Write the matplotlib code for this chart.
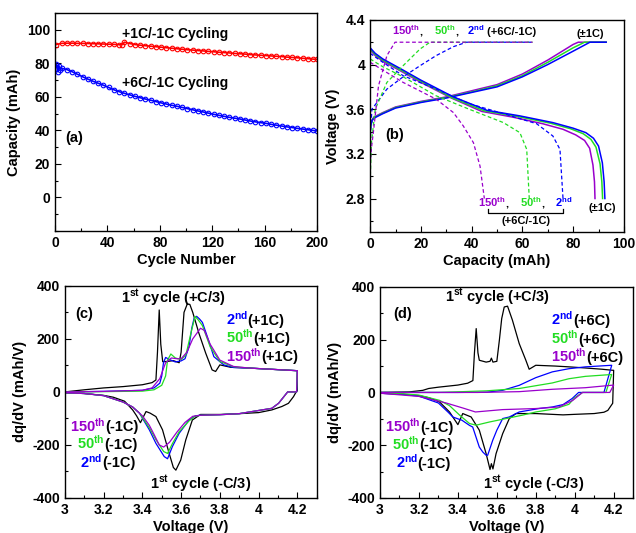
import numpy as np
import matplotlib
matplotlib.use("Agg")
import matplotlib.pyplot as plt
from matplotlib.ticker import MultipleLocator, FormatStrFormatter

plt.rcParams['font.family'] = ['Liberation Sans', 'DejaVu Sans']
plt.rcParams['font.weight'] = 'bold'
plt.rcParams['axes.labelweight'] = 'bold'
plt.rcParams['mathtext.fontset'] = 'custom'
plt.rcParams['mathtext.rm'] = 'Liberation Sans:bold'
plt.rcParams['mathtext.it'] = 'Liberation Sans:bold'
plt.rcParams['mathtext.bf'] = 'Liberation Sans:bold'
plt.rcParams['axes.unicode_minus'] = False

BLUE = '#0000ff'
GREEN = '#22dd22'
PURPLE = '#9900cc'
RED = '#ff0000'

# ---------------- (a) capacity vs cycle ----------------
red_cycles = [1, 5, 9, 13, 17, 21, 25, 29, 33, 37, 41, 45, 49, 51, 53, 57, 61, 65, 69, 73,
              77, 81, 85, 89, 93, 97, 101, 105, 109, 113, 117, 121, 125, 129, 133, 137, 141,
              145, 149, 153, 157, 161, 165, 169, 173, 177, 181, 185, 189, 193, 197, 200]
red_cap = [91.2, 91.9, 92.0, 92.0, 91.9, 91.9, 91.8, 91.7, 91.6, 91.5, 91.4, 91.3, 91.1, 91.1, 92.6,
           91.8, 91.2, 90.8, 90.5, 90.2, 89.9, 89.6, 89.3, 89.0, 88.7, 88.4, 88.1, 87.9, 87.6,
           87.4, 87.1, 86.9, 86.6, 86.4, 86.2, 85.9, 85.7, 85.5, 85.2, 85.0, 84.8, 84.6, 84.4,
           84.2, 84.0, 83.7, 83.5, 83.3, 83.0, 82.8, 82.5, 82.3]

blue_cycles = [1, 2, 3, 4, 5, 9, 13, 17, 21, 25, 29, 33, 37, 41, 45, 49, 53, 57, 61, 65, 69, 73,
               77, 81, 85, 89, 93, 97, 101, 105, 109, 113, 117, 121, 125, 129, 133, 137, 141,
               145, 149, 153, 157, 161, 165, 169, 173, 177, 181, 185, 189, 193, 197, 200]
blue_cap = [79.5, 75.0, 78.5, 76.0, 77.0, 76.3, 75.0, 73.5, 72.0, 70.6, 69.3, 68.1, 66.9, 65.6,
            64.2, 63.1, 62.1, 61.2, 60.3, 59.5, 58.7, 58.0, 57.2, 56.4, 55.7, 55.0, 54.4, 53.7,
            53.0, 52.3, 51.6, 51.0, 50.3, 49.6, 49.0, 48.4, 47.8, 47.3, 46.8, 46.2, 45.6, 45.1,
            44.6, 44.2, 43.6, 43.1, 42.6, 42.1, 41.7, 41.2, 40.8, 40.4, 40.0, 39.7]

# ---------------- (b) voltage vs capacity ----------------
# solid (+-1C) charge
b_chg_cap_blue = [0, 0.3, 0.8, 1.5, 5, 10, 20, 30, 40, 50, 60, 70, 80, 86.6, 93]
b_chg_v_blue = [3.42, 3.46, 3.50, 3.52, 3.56, 3.61, 3.66, 3.70, 3.75, 3.80, 3.89, 4.00, 4.12, 4.20, 4.20]
b_chg_cap_green = [0, 0.3, 0.8, 1.5, 5, 10, 20, 30, 40, 50, 60, 70, 80, 84.5, 93]
b_chg_v_green = [3.38, 3.46, 3.50, 3.525, 3.565, 3.615, 3.665, 3.705, 3.755, 3.81, 3.90, 4.02, 4.15, 4.20, 4.20]
b_chg_cap_purple = [0, 0.3, 0.8, 1.5, 5, 10, 20, 30, 40, 50, 60, 70, 80, 82, 93]
b_chg_v_purple = [3.44, 3.46, 3.505, 3.53, 3.57, 3.62, 3.67, 3.71, 3.765, 3.82, 3.915, 4.04, 4.18, 4.20, 4.20]
# solid (+-1C) discharge
b_dis_cap_blue = [0, 2, 5, 13, 20, 32.8, 46, 59, 72, 80, 85, 88, 90, 91.5, 92.2, 92.5]
b_dis_v_blue = [4.15, 4.10, 4.05, 3.95, 3.86, 3.71, 3.59, 3.54, 3.48, 3.43, 3.39, 3.34, 3.27, 3.12, 2.95, 2.80]
b_dis_cap_green = [0, 2, 5, 13, 20, 32.5, 45, 58, 71, 79, 84, 87, 89, 90.6, 91.3, 91.6]
b_dis_v_green = [4.14, 4.09, 4.04, 3.94, 3.85, 3.70, 3.585, 3.535, 3.475, 3.425, 3.38, 3.33, 3.26, 3.11, 2.95, 2.80]
b_dis_cap_purple = [0, 2, 5, 13, 20, 32, 44, 56, 68, 76, 81, 84.5, 86.5, 87.8, 88.4, 88.6]
b_dis_v_purple = [4.13, 4.08, 4.03, 3.93, 3.84, 3.70, 3.58, 3.53, 3.47, 3.42, 3.37, 3.32, 3.25, 3.10, 2.95, 2.80]
# dashed (+6C/-1C) charge
d_chg_cap_purple = [0, 0.5, 1.3, 3.3, 6.6, 9.8, 64]
d_chg_v_purple = [3.10, 3.25, 3.40, 3.81, 4.08, 4.20, 4.20]
d_chg_cap_green = [0, 0.5, 2, 6.6, 13, 19.7, 23.6, 64]
d_chg_v_green = [2.95, 3.30, 3.60, 3.84, 3.99, 4.14, 4.20, 4.20]
d_chg_cap_blue = [0, 0.3, 0.7, 6.6, 13, 19.7, 26, 32.8, 38, 64]
d_chg_v_blue = [3.30, 3.45, 3.60, 3.78, 3.89, 3.99, 4.08, 4.16, 4.20, 4.20]
# dashed (+6C/-1C) discharge
d_dis_cap_purple = [0, 5, 13, 26, 32.8, 36.7, 40.7, 43.3, 45]
d_dis_v_purple = [4.02, 3.95, 3.84, 3.69, 3.57, 3.45, 3.30, 3.09, 2.80]
d_dis_cap_green = [0, 5, 13, 26, 39, 52.5, 59, 61.7, 62.7]
d_dis_v_green = [4.05, 3.98, 3.89, 3.72, 3.60, 3.48, 3.39, 3.24, 2.80]
d_dis_cap_blue = [0, 5, 13, 26, 39, 52.5, 65.6, 72, 74.8, 76]
d_dis_v_blue = [4.10, 4.02, 3.90, 3.78, 3.65, 3.56, 3.47, 3.36, 3.24, 2.80]

# ---------------- (c) dq/dV, +1C charge ----------------
c_blk_chg_v = [3.00, 3.10, 3.20, 3.30, 3.40, 3.45, 3.47, 3.478, 3.487, 3.495, 3.505, 3.53, 3.56,
               3.59, 3.60, 3.615, 3.632, 3.645, 3.66, 3.692, 3.727, 3.76, 3.778, 3.80, 3.855,
               3.95, 4.05, 4.15, 4.20]
c_blk_chg_q = [0, 8, 15, 20, 27, 35, 45, 150, 309, 180, 114, 115, 118, 110, 150, 300, 332, 330,
               300, 221, 146, 83, 77, 102, 93, 90, 86, 82, 80]
c_blk_dis_v = [4.20, 4.19, 4.18, 4.154, 4.12, 4.068, 4.0, 3.9, 3.8, 3.7, 3.658, 3.624, 3.598,
               3.573, 3.56, 3.538, 3.504, 3.47, 3.44, 3.419, 3.39, 3.37, 3.35, 3.308, 3.25, 3.2,
               3.1, 3.0]
c_blk_dis_q = [5, -5, -18, -43, -55, -68, -78, -82, -85, -85, -106, -181, -257, -295, -285,
               -231, -143, -93, -80, -74, -116, -90, -68, -35, -20, -13, -6, -3]

c_blu_chg_v = [3.0, 3.2, 3.4, 3.46, 3.49, 3.50, 3.509, 3.52, 3.54, 3.57, 3.60, 3.62, 3.641,
               3.655, 3.667, 3.68, 3.695, 3.71, 3.735, 3.769, 3.82, 3.87, 3.95, 4.05, 4.15, 4.2]
c_blu_chg_q = [0, 2, 6, 15, 33, 60, 110, 130, 122, 113, 117, 125, 171, 240, 278, 285, 275, 262,
               209, 133, 102, 92, 90, 86, 82, 80]
c_blu_dis_v = [4.2, 4.196, 4.15, 4.103, 4.068, 4.017, 3.9, 3.8, 3.7, 3.675, 3.641, 3.59, 3.555,
               3.53, 3.513, 3.47, 3.436, 3.385, 3.35, 3.3, 3.2, 3.1, 3.0]
c_blu_dis_q = [80, 0, 0, -43, -62, -68, -82, -86, -88, -90, -106, -156, -206, -252, -244, -194,
               -143, -80, -57, -38, -14, -6, -3]

c_grn_chg_v = [3.0, 3.2, 3.4, 3.46, 3.50, 3.52, 3.53, 3.547, 3.57, 3.60, 3.625, 3.65, 3.672,
               3.69, 3.71, 3.75, 3.80, 3.87, 3.95, 4.05, 4.15, 4.2]
c_grn_chg_q = [0, 1, 3, 8, 25, 60, 120, 143, 128, 122, 140, 220, 285, 270, 250, 170, 115, 95,
               90, 86, 82, 80]
c_grn_dis_v = [4.2, 4.196, 4.15, 4.103, 4.068, 4.017, 3.9, 3.8, 3.7, 3.67, 3.64, 3.59, 3.555,
               3.53, 3.51, 3.47, 3.436, 3.385, 3.35, 3.3, 3.2, 3.1, 3.0]
c_grn_dis_q = [80, 0, 0, -43, -62, -68, -82, -86, -88, -92, -110, -150, -195, -232, -225, -180,
               -135, -80, -57, -38, -14, -6, -3]

c_pur_chg_v = [3.0, 3.2, 3.4, 3.45, 3.49, 3.52, 3.55, 3.58, 3.60, 3.63, 3.66, 3.70, 3.72, 3.75,
               3.80, 3.87, 3.95, 4.05, 4.15, 4.2]
c_pur_chg_q = [0, 2, 6, 15, 50, 110, 128, 125, 125, 150, 200, 240, 232, 180, 120, 96, 90, 86,
               82, 80]
c_pur_dis_v = [4.2, 4.196, 4.15, 4.103, 4.068, 4.017, 3.9, 3.8, 3.7, 3.66, 3.62, 3.58, 3.54,
               3.51, 3.487, 3.46, 3.436, 3.40, 3.385, 3.35, 3.3, 3.2, 3.1, 3.0]
c_pur_dis_q = [80, 0, 0, -43, -62, -68, -82, -86, -88, -92, -115, -150, -190, -208, -200, -160,
               -126, -90, -80, -57, -38, -14, -6, -3]

# ---------------- (d) dq/dV, +6C charge ----------------
d_blk_chg_v = [3.0, 3.15, 3.22, 3.25, 3.3, 3.4, 3.45, 3.477, 3.485, 3.494, 3.503, 3.51, 3.545,
               3.565, 3.572, 3.58, 3.60, 3.613, 3.625, 3.638, 3.655, 3.68, 3.715, 3.749, 3.766,
               3.80, 3.9, 3.97, 4.05, 4.14, 4.195]
d_blk_chg_q = [0, 2, 8, 15, 20, 28, 35, 45, 150, 242, 150, 122, 115, 118, 130, 115, 118, 198,
               280, 324, 327, 274, 185, 122, 88, 103, 100, 97, 93, 88, 84]
d_blk_dis_v = [4.2, 4.195, 4.17, 4.15, 4.1, 4.0, 3.94, 3.8, 3.698, 3.664, 3.63, 3.596, 3.58,
               3.572, 3.565, 3.545, 3.51, 3.468, 3.425, 3.40, 3.357, 3.306, 3.25, 3.2, 3.1, 3.0]
d_blk_dis_q = [84, -41, -68, -75, -80, -83, -85, -80, -80, -99, -156, -232, -290, -270, -292,
               -232, -143, -93, -80, -122, -74, -36, -20, -12, -6, -3]

d_blu_chg_v = [3.0, 3.4, 3.55, 3.63, 3.715, 3.8, 3.885, 3.97, 4.055, 4.19]
d_blu_chg_q = [0, 0, 1, 8, 27, 56, 78, 90, 97, 103]
d_blu_dis_v = [4.15, 4.02, 3.987, 3.94, 3.885, 3.817, 3.715, 3.664, 3.63, 3.6, 3.579, 3.553,
               3.545, 3.528, 3.51, 3.476, 3.46, 3.42, 3.40, 3.374, 3.35, 3.3, 3.2, 3.1, 3.0]
d_blu_dis_q = [0, 0, -23, -46, -55, -61, -74, -93, -99, -143, -181, -238, -238, -226, -207,
               -131, -125, -105, -100, -93, -75, -40, -14, -6, -3]

d_grn_chg_v = [3.0, 3.3, 3.545, 3.715, 3.885, 3.97, 4.055, 4.19]
d_grn_chg_q = [0, 0, 6, 15, 36, 52, 61, 68]
d_grn_dis_v = [4.16, 4.04, 4.0, 3.97, 3.9, 3.8, 3.732, 3.647, 3.562, 3.494, 3.46, 3.409, 3.357,
               3.306, 3.2, 3.1, 3.0]
d_grn_dis_q = [0, 0, -20, -45, -62, -74, -86, -99, -112, -124, -118, -86, -50, -30, -10, -4, -2]

d_pur_chg_v = [3.0, 3.5, 3.715, 3.885, 4.055, 4.2]
d_pur_chg_q = [0, 0, 3, 12, 18, 28]
d_pur_dis_v = [4.18, 4.04, 3.99, 3.92, 3.8, 3.63, 3.49, 3.43, 3.34, 3.2, 3.0]
d_pur_dis_q = [0, 0, -30, -55, -61, -65, -74, -60, -40, -15, -3]


fig = plt.figure(figsize=(6.36, 5.33), dpi=100)
ax_a = fig.add_axes([0.0865, 0.5666, 0.412, 0.409])
ax_b = fig.add_axes([0.582, 0.5647, 0.399, 0.398])
ax_c = fig.add_axes([0.102, 0.0657, 0.396, 0.398])
ax_d = fig.add_axes([0.5975, 0.0657, 0.398, 0.396])


def style(ax):
    ax.tick_params(which='both', direction='in', top=False, right=False, labelsize=10, width=0.8)
    ax.tick_params(which='major', length=4)
    ax.tick_params(which='minor', length=2.5)
    for sp in ax.spines.values():
        sp.set_linewidth(1.0)


def put(ax, x, y, parts, size):
    # draw consecutive text pieces of different colours on one baseline
    r = fig.canvas.get_renderer()
    for s, c in parts:
        t = ax.text(x, y, s, color=c, fontsize=size, fontweight='bold', va='baseline', ha='left')
        bb = t.get_window_extent(renderer=r)
        x = ax.transData.inverted().transform((bb.x1, bb.y0))[0]


# ---- (a)
ax_a.plot(red_cycles, red_cap, '-o', color=RED, lw=1.2, mfc='none', mec=RED, ms=3.3, mew=0.8)
ax_a.plot(blue_cycles, blue_cap, '-o', color=BLUE, lw=1.2, mfc='none', mec=BLUE, ms=3.3, mew=0.8)
ax_a.set_xlim(0, 200)
ax_a.set_ylim(-20, 110)
ax_a.xaxis.set_major_locator(MultipleLocator(40))
ax_a.xaxis.set_minor_locator(MultipleLocator(20))
ax_a.yaxis.set_major_locator(MultipleLocator(20))
ax_a.yaxis.set_minor_locator(MultipleLocator(10))
ax_a.set_yticks([0, 20, 40, 60, 80, 100])
ax_a.set_xlabel('Cycle Number', fontsize=10.5, labelpad=2)
ax_a.set_ylabel('Capacity (mAh)', fontsize=10.5)
style(ax_a)
ax_a.text(51, 95, '+1C/-1C Cycling', fontsize=10, fontweight='bold', va='baseline')
ax_a.text(51, 66, '+6C/-1C Cycling', fontsize=10, fontweight='bold', va='baseline')
ax_a.text(7.6, 33, '(a)', fontsize=10.5, fontweight='bold', va='baseline')

# ---- (b)
ax_b.plot(b_chg_cap_purple, b_chg_v_purple, color=PURPLE, lw=1.1)
ax_b.plot(b_chg_cap_green, b_chg_v_green, color=GREEN, lw=1.1)
ax_b.plot(b_chg_cap_blue, b_chg_v_blue, color=BLUE, lw=1.1)
ax_b.plot(b_dis_cap_purple, b_dis_v_purple, color=PURPLE, lw=1.1)
ax_b.plot(b_dis_cap_green, b_dis_v_green, color=GREEN, lw=1.1)
ax_b.plot(b_dis_cap_blue, b_dis_v_blue, color=BLUE, lw=1.1)
dash = (0, (3, 2))
ax_b.plot(d_chg_cap_blue, d_chg_v_blue, color=BLUE, lw=0.9, ls=dash)
ax_b.plot(d_chg_cap_green, d_chg_v_green, color=GREEN, lw=0.9, ls=dash)
ax_b.plot(d_chg_cap_purple, d_chg_v_purple, color=PURPLE, lw=0.9, ls=dash)
ax_b.plot(d_dis_cap_blue, d_dis_v_blue, color=BLUE, lw=0.9, ls=dash)
ax_b.plot(d_dis_cap_green, d_dis_v_green, color=GREEN, lw=0.9, ls=dash)
ax_b.plot(d_dis_cap_purple, d_dis_v_purple, color=PURPLE, lw=0.9, ls=dash)
ax_b.set_xlim(0, 100)
ax_b.set_ylim(2.5, 4.4)
ax_b.xaxis.set_major_locator(MultipleLocator(20))
ax_b.xaxis.set_minor_locator(MultipleLocator(10))
ax_b.set_yticks([2.8, 3.2, 3.6, 4.0, 4.4])
ax_b.yaxis.set_minor_locator(MultipleLocator(0.2))
ax_b.yaxis.set_major_formatter(FormatStrFormatter('%g'))
ax_b.set_xlabel('Capacity (mAh)', fontsize=10.5, labelpad=2)
ax_b.set_ylabel('Voltage (V)', fontsize=10.5)
style(ax_b)
put(ax_b, 8.5, 4.265, [(r'150$^\mathregular{th}$', PURPLE), (',', 'black')], 8)
put(ax_b, 25, 4.265, [(r'50$^\mathregular{th}$', GREEN), (',', 'black')], 8)
put(ax_b, 38, 4.265, [(r'2$^\mathregular{nd}$', BLUE), (' (+6C/-1C)', 'black')], 8)
ax_b.text(81.4, 4.25, '(\u00b11C)', fontsize=8, fontweight='bold', va='baseline')
put(ax_b, 42.6, 2.727, [(r'150$^\mathregular{th}$', PURPLE), (',', 'black')], 8)
put(ax_b, 59, 2.727, [(r'50$^\mathregular{th}$', GREEN), (',', 'black')], 8)
put(ax_b, 72.8, 2.727, [(r'2$^\mathregular{nd}$', BLUE)], 8)
ax_b.text(86, 2.69, '(\u00b11C)', fontsize=8, fontweight='bold', va='baseline')
x0 = d_dis_cap_purple[-1] + 1.5
x1 = d_dis_cap_blue[-1]
ax_b.plot([x0, x0, x1, x1], [2.71, 2.673, 2.673, 2.71], color='black', lw=0.9)
ax_b.text((x0 + x1) / 2, 2.57, '(+6C/-1C)', fontsize=8, fontweight='bold', va='baseline', ha='center')
ax_b.text(5.9, 3.33, '(b)', fontsize=10.5, fontweight='bold', va='baseline')


def dqdv_axes(ax):
    ax.set_xlim(3.0, 4.3)
    ax.set_ylim(-400, 400)
    ax.set_xticks([3.0, 3.2, 3.4, 3.6, 3.8, 4.0, 4.2])
    ax.xaxis.set_minor_locator(MultipleLocator(0.1))
    ax.xaxis.set_major_formatter(FormatStrFormatter('%g'))
    ax.yaxis.set_major_locator(MultipleLocator(200))
    ax.yaxis.set_minor_locator(MultipleLocator(100))
    ax.set_xlabel('Voltage (V)', fontsize=10.5, labelpad=2)
    ax.set_ylabel('dq/dV (mAh/V)', fontsize=10.5)
    style(ax)


# ---- (c)
ax_c.plot(c_blk_chg_v + c_blk_dis_v, c_blk_chg_q + c_blk_dis_q, color='black', lw=0.9)
ax_c.plot(c_blu_chg_v + c_blu_dis_v, c_blu_chg_q + c_blu_dis_q, color=BLUE, lw=0.9)
ax_c.plot(c_grn_chg_v + c_grn_dis_v, c_grn_chg_q + c_grn_dis_q, color=GREEN, lw=0.9)
ax_c.plot(c_pur_chg_v + c_pur_dis_v, c_pur_chg_q + c_pur_dis_q, color=PURPLE, lw=0.9)
dqdv_axes(ax_c)
put(ax_c, 3.289, 337, [(r'1$^\mathregular{st}$ cycle (+C/3)', 'black')], 10.5)
put(ax_c, 3.055, 280, [('(c)', 'black')], 10.5)
put(ax_c, 3.83, 253, [(r'2$^\mathregular{nd}$', BLUE), ('(+1C)', 'black')], 10.5)
put(ax_c, 3.83, 184, [(r'50$^\mathregular{th}$', GREEN), ('(+1C)', 'black')], 10.5)
put(ax_c, 3.83, 115, [(r'150$^\mathregular{th}$', PURPLE), ('(+1C)', 'black')], 10.5)
put(ax_c, 3.024, -149, [(r'150$^\mathregular{th}$', PURPLE), ('(-1C)', 'black')], 10.5)
put(ax_c, 3.063, -214, [(r'50$^\mathregular{th}$', GREEN), ('(-1C)', 'black')], 10.5)
put(ax_c, 3.079, -284, [(r'2$^\mathregular{nd}$', BLUE), ('(-1C)', 'black')], 10.5)
put(ax_c, 3.44, -363, [(r'1$^\mathregular{st}$ cycle (-C/3)', 'black')], 10.5)

# ---- (d)
ax_d.plot(d_blk_chg_v + d_blk_dis_v, d_blk_chg_q + d_blk_dis_q, color='black', lw=0.9)
ax_d.plot(d_blu_chg_v + d_blu_dis_v, d_blu_chg_q + d_blu_dis_q, color=BLUE, lw=0.9)
ax_d.plot(d_grn_chg_v + d_grn_dis_v, d_grn_chg_q + d_grn_dis_q, color=GREEN, lw=0.9)
ax_d.plot(d_pur_chg_v + d_pur_dis_v, d_pur_chg_q + d_pur_dis_q, color=PURPLE, lw=0.9)
dqdv_axes(ax_d)
put(ax_d, 3.332, 343, [(r'1$^\mathregular{st}$ cycle (+C/3)', 'black')], 10.5)
put(ax_d, 3.07, 282, [('(d)', 'black')], 10.5)
put(ax_d, 3.877, 255, [(r'2$^\mathregular{nd}$', BLUE), ('(+6C)', 'black')], 10.5)
put(ax_d, 3.877, 185, [(r'50$^\mathregular{th}$', GREEN), ('(+6C)', 'black')], 10.5)
put(ax_d, 3.877, 116, [(r'150$^\mathregular{th}$', PURPLE), ('(+6C)', 'black')], 10.5)
put(ax_d, 3.026, -150, [(r'150$^\mathregular{th}$', PURPLE), ('(-1C)', 'black')], 10.5)
put(ax_d, 3.06, -216, [(r'50$^\mathregular{th}$', GREEN), ('(-1C)', 'black')], 10.5)
put(ax_d, 3.08, -287, [(r'2$^\mathregular{nd}$', BLUE), ('(-1C)', 'black')], 10.5)
put(ax_d, 3.53, -365, [(r'1$^\mathregular{st}$ cycle (-C/3)', 'black')], 10.5)

fig.savefig('out.png', dpi=100)
